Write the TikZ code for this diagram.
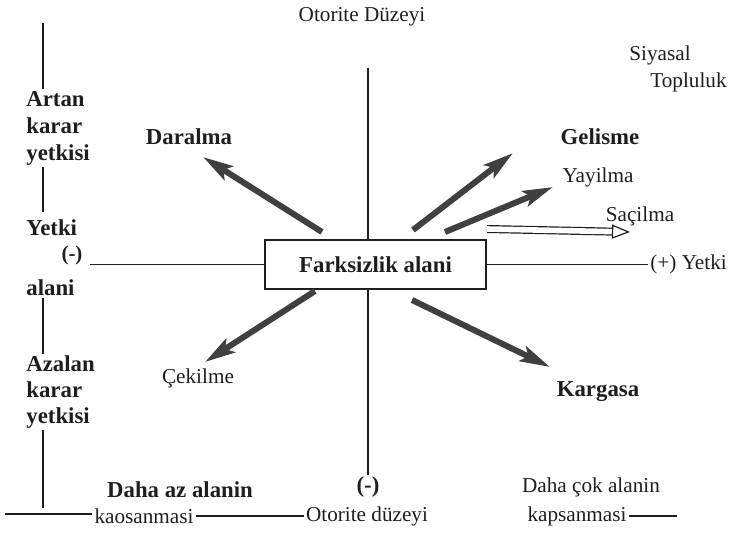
\documentclass[tikz,border=0pt]{standalone}
\usepackage{fontspec}
\setmainfont{Liberation Serif}
\usetikzlibrary{arrows.meta,positioning,calc}
\definecolor{ink}{RGB}{30,30,30}
\tikzset{
  lab/.style={font=\fontsize{10.6}{12}\selectfont,inner sep=1pt,text=ink},
  blab/.style={font=\fontsize{11.4}{13}\selectfont\bfseries,inner sep=1pt,text=ink},
  side/.style={blab,align=left,anchor=west},
  box/.style={draw=ink,line width=0.6pt,minimum width=110.5pt,minimum height=24.5pt,
    blab,inner sep=2pt},
  axis/.style={draw=ink,line width=0.6pt},
  move/.style={line width=3pt,ink!85,-{Stealth[length=15pt,width=8pt,inset=3pt]}},
  hollow/.style={draw=ink,line width=0.6pt,double=white,double distance=2.8pt,
    -{Triangle[open,length=9pt,width=7pt]}},
}
\begin{document}
\begin{tikzpicture}[x=0.5pt,y=-0.5pt]
\useasboundingbox (0,0) rectangle (751,533);
% centre box and axes
\node[box] (fark) at (375.5,264.5) {Farksizlik alani};
\coordinate (vtop) at (368,68);
\coordinate (vbot) at (368,475);
\coordinate (hleft) at (90,264.5);
\draw[axis] (vtop) -- (vtop |- fark.north);
\draw[axis] (vbot |- fark.south) -- (vbot);
\draw[axis] (hleft) -- (fark.west);
\node[lab,anchor=west] (yetkiR) at (648,264.5) {(+) Yetki};
\draw[axis] (fark.east) -- (yetkiR.west);
\node[lab] (otoT) at (362,17) {Otorite Düzeyi};
\node[lab,anchor=west] (siy) at (627,55) {Siyasal};
\node[lab,anchor=west] (top) at (648,82) {Topluluk};
% left scale
\node[side,font=\fontsize{11.4}{13.5}\selectfont\bfseries] (artan) at (24,128) {Artan\\karar\\yetkisi};
\node[side] (yetki) at (24,228) {Yetki};
\node[blab,font=\fontsize{10.5}{12}\selectfont\bfseries] (minL) at (72,255) {(-)};
\node[side] (alani) at (24,288) {alani};
\node[side,font=\fontsize{11.4}{12.8}\selectfont\bfseries] (azalan) at (24,392) {Azalan\\karar\\yetkisi};
\coordinate (ltop) at (43,23);
\coordinate (lbot) at (43,508);
\draw[axis] (ltop) -- (ltop |- artan.north);
\draw[axis,shorten >=3pt] (ltop |- artan.south) -- (ltop |- yetki.north);
\draw[axis] (ltop |- alani.south) -- (ltop |- azalan.north);
\draw[axis] (ltop |- azalan.south) -- (lbot);
% bottom row
\node[blab] (dahaAz) at (180,490) {Daha az alanin};
\node[blab] (minB) at (368,487) {(-)};
\node[lab] (dahaCok) at (591,487) {Daha çok alanin};
\node[lab] (kaos) at (144,516) {kaosanmasi};
\node[lab] (otoB) at (367,516) {Otorite düzeyi};
\node[lab] (kap) at (577,516) {kapsanmasi};
\coordinate (bl) at (5,514);
\coordinate (br) at (677,514);
\draw[axis] (bl) -- (bl -| kaos.west);
\draw[axis] (kaos.east) -- (otoB.west);
\draw[axis] (kap.east) -- (kap.east -| br);
% outcomes
\node[blab] (dar) at (189,137) {Daralma};
\node[blab] (gel) at (600,137) {Gelisme};
\node[lab] (yay) at (598,177) {Yayilma};
\node[lab] (sac) at (640,216) {Saçilma};
\node[lab] (cek) at (198,378) {Çekilme};
\node[blab] (kar) at (598,392) {Kargasa};
\coordinate (darT) at (322,232);  \coordinate (darH) at (203,157);
\coordinate (gelT) at (413,230);  \coordinate (gelH) at (513,153);
\coordinate (yayT) at (445,232);  \coordinate (yayH) at (553,187);
\coordinate (sacT) at (487,229);  \coordinate (sacH) at (630,232);
\coordinate (cekT) at (315,291);  \coordinate (cekH) at (205,362);
\coordinate (karT) at (412,300);  \coordinate (karH) at (550,367);
\draw[move] (darT) -- (darH);
\draw[move] (gelT) -- (gelH);
\draw[move] (yayT) -- (yayH);
\draw[move] (cekT) -- (cekH);
\draw[move] (karT) -- (karH);
\draw[hollow] (sacT) -- (sacH);
\end{tikzpicture}
\end{document}
